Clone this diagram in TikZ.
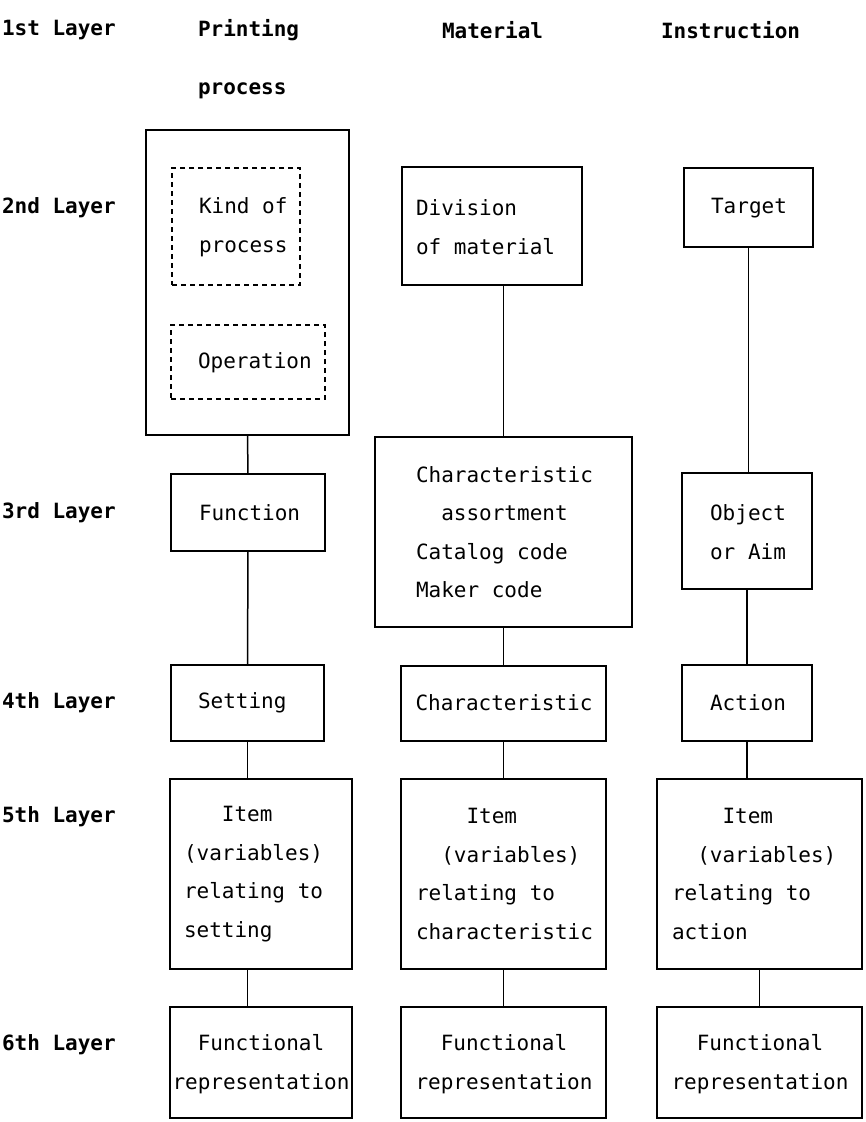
\documentclass[tikz,border=0pt]{standalone}
\usepackage{fontspec}
\setmonofont{DejaVu Sans Mono}
\newfontfamily\monobold{DejaVu Sans Mono Bold}
\newlength\chw
\setlength\chw{12.64pt}
\newcommand\ind[1]{\hspace*{#1\chw}}
\begin{document}
\begin{tikzpicture}[x=1pt,y=-1pt,
  every node/.style={inner sep=0pt, outer sep=0pt},
  txt/.style={font=\ttfamily\fontsize{21}{38.5}\selectfont, align=left, anchor=west},
  ctxt/.style={font=\ttfamily\fontsize{21}{38.5}\selectfont, align=center, anchor=center},
  layer/.style={font=\ttfamily\bfseries\fontsize{21}{58}\selectfont, align=left, anchor=west},
  boxn/.style={draw, line width=1.7pt},
  dbox/.style={draw, line width=1.2pt, dash pattern=on 5pt off 4pt},
  link/.style={line width=1.5pt}]
\useasboundingbox (0,0) rectangle (866,1122);
% sized rectangle node: \boxat{name}{style}{x1}{y1}{x2}{y2}
\newcommand\boxat[6]{\node[#2, minimum width={#5-#3}, minimum height={#6-#4}] (#1) at ({(#3+#5)/2},{(#4+#6)/2}) {};}

% layer labels and column headings
\node[layer] (l1) at (2,30) {1st Layer};
\node[layer] (l2) at (2,208) {2nd Layer};
\node[layer] (l3) at (2,513) {3rd Layer};
\node[layer] (l4) at (2,703) {4th Layer};
\node[layer] (l5) at (2,817) {5th Layer};
\node[layer] (l6) at (2,1045) {6th Layer};
\node[layer] (h1) at (198,59) {Printing\\process};
\node[layer] (h2) at (442,30) {Material};
\node[layer] (h3) at (661,30) {Instruction};

% Printing process column
\boxat{P2}{boxn}{146}{130}{349}{435}
\boxat{P2a}{dbox}{172}{168}{300}{285}
\boxat{P2b}{dbox}{171}{325}{325}{399}
\node[txt] (P2at) at (199,227) {Kind of\\process};
\node[txt] (P2bt) at (198,363) {Operation};
\boxat{P3}{boxn}{171}{474}{325}{551}
\node[txt] (P3t) at (199,513) {Function};
\boxat{P4}{boxn}{171}{665}{324}{741}
\node[txt] (P4t) at (198,703) {Setting};
\boxat{P5}{boxn}{170}{779}{352}{969}
\node[txt] (P5t) at (184,874) {\ind{3}Item\\(variables)\\relating to\\setting};
\boxat{P6}{boxn}{170}{1007}{352}{1118}
\node[ctxt] (P6t) at (261,1064) {Functional\\representation};

% Material column
\boxat{M2}{boxn}{402}{167}{582}{285}
\node[txt] (M2t) at (416,227) {Division\\of material};
\boxat{M3}{boxn}{375}{437}{632}{627}
\node[txt] (M3t) at (416,532) {Characteristic\\\ind{2}assortment\\Catalog code\\Maker code};
\boxat{M4}{boxn}{401}{666}{606}{741}
\node[ctxt] (M4t) at (504,703) {Characteristic};
\boxat{M5}{boxn}{401}{779}{606}{969}
\node[txt] (M5t) at (416,874) {\ind{4}Item\\\ind{2}(variables)\\relating to\\characteristic};
\boxat{M6}{boxn}{401}{1007}{606}{1118}
\node[ctxt] (M6t) at (504,1064) {Functional\\representation};

% Instruction column
\boxat{I2}{boxn}{684}{168}{813}{247}
\node[ctxt] (I2t) at (749,208) {Target};
\boxat{I3}{boxn}{682}{473}{812}{589}
\node[ctxt] (I3t) at (748,532) {Object\\or Aim};
\boxat{I4}{boxn}{682}{665}{812}{741}
\node[ctxt] (I4t) at (748,703) {Action};
\boxat{I5}{boxn}{657}{779}{862}{969}
\node[txt] (I5t) at (672,874) {\ind{4}Item\\\ind{2}(variables)\\relating to\\action};
\boxat{I6}{boxn}{657}{1007}{862}{1118}
\node[ctxt] (I6t) at (760,1064) {Functional\\representation};

% connectors
\draw[link] (P2.south) -- (P3.north);
\draw[link] (P3.south) -- (P4.north);
\draw[link] (P4.south) -- (P4.south |- P5.north);
\draw[link] (P4.south |- P5.south) -- (P4.south |- P6.north);
\draw[link] (M3.north |- M2.south) -- (M3.north);
\draw[link] (M3.south) -- (M4.north);
\draw[link] (M4.south) -- (M5.north);
\draw[link] (M5.south) -- (M6.north);
\draw[link] (I2.south) -- (I2.south |- I3.north);
\draw[link] (I3.south) -- (I4.north);
\draw[link] (I4.south) -- (I4.south |- I5.north);
\draw[link] (I5.south) -- (I6.north);
\end{tikzpicture}
\end{document}
